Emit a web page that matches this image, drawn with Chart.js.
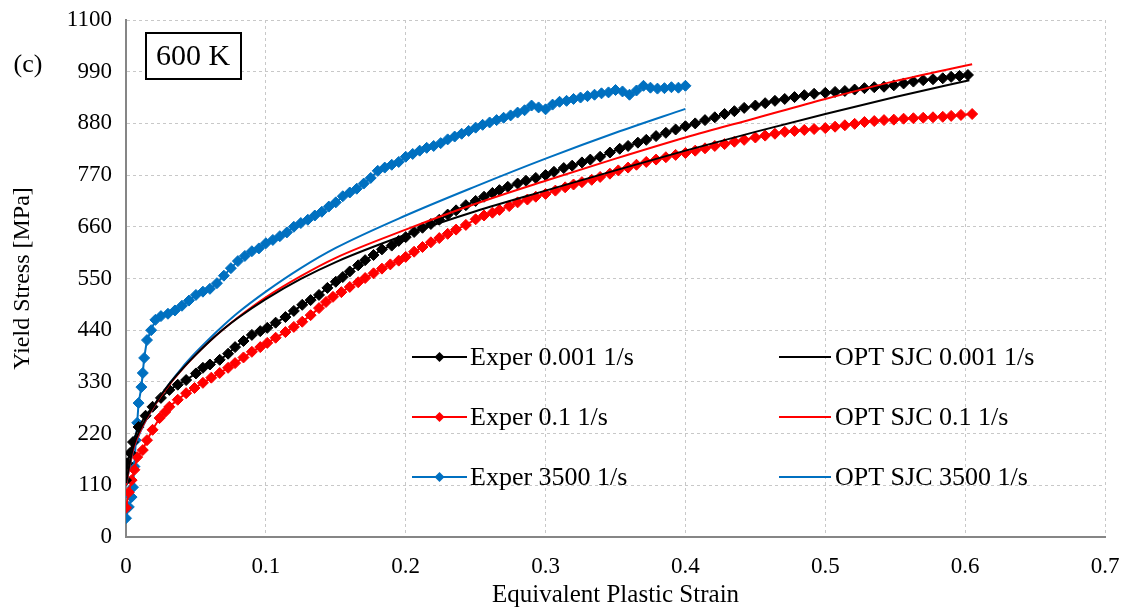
<!DOCTYPE html>
<html>
<head>
<meta charset="utf-8">
<script src="https://cdn.jsdelivr.net/npm/chart.js@4.4.1/dist/chart.umd.min.js"></script>
<style>
  html, body { margin: 0; padding: 0; background: #fff; }
  #wrap { width: 1130px; height: 613px; }
</style>
</head>
<body>
<div id="wrap"><canvas id="myChart" width="1130" height="613"></canvas></div>
<script>
var expStrain001 = [0, 0.001, 0.003, 0.005, 0.009, 0.014, 0.019, 0.025, 0.031, 0.037, 0.043, 0.05, 0.055, 0.06, 0.067, 0.073, 0.078, 0.084, 0.09, 0.096, 0.101, 0.107, 0.114, 0.12, 0.126, 0.132, 0.138, 0.144, 0.15, 0.155, 0.16, 0.166, 0.171, 0.177, 0.183, 0.19, 0.195, 0.2, 0.206, 0.212, 0.218, 0.224, 0.23, 0.236, 0.243, 0.25, 0.256, 0.262, 0.267, 0.273, 0.28, 0.286, 0.293, 0.3, 0.306, 0.313, 0.319, 0.326, 0.332, 0.339, 0.346, 0.353, 0.359, 0.366, 0.372, 0.379, 0.386, 0.393, 0.4, 0.407, 0.414, 0.421, 0.428, 0.435, 0.442, 0.45, 0.457, 0.464, 0.471, 0.478, 0.485, 0.492, 0.5, 0.507, 0.514, 0.521, 0.528, 0.535, 0.542, 0.549, 0.556, 0.563, 0.57, 0.577, 0.584, 0.59, 0.596, 0.602];
var expStress001 = [121, 157, 179, 202, 234, 258, 277, 296, 313, 324, 334, 348, 360, 367, 377, 390, 404, 417, 430, 438, 445, 456, 468, 481, 494, 504, 515, 530, 543, 553, 565, 578, 589, 600, 612, 620, 630, 638, 649, 658, 666, 675, 686, 695, 706, 715, 724, 732, 738, 745, 752, 758, 764, 770, 777, 785, 790, 797, 803, 809, 818, 826, 832, 839, 845, 853, 860, 867, 874, 880, 887, 893, 900, 906, 913, 918, 923, 928, 932, 936, 940, 943, 945, 947, 949, 952, 955, 957, 958, 961, 965, 969, 972, 974, 976, 979, 981, 983];

var expStrain01 = [0, 0.002, 0.004, 0.006, 0.008, 0.012, 0.015, 0.019, 0.024, 0.028, 0.031, 0.037, 0.043, 0.049, 0.055, 0.061, 0.067, 0.073, 0.078, 0.084, 0.09, 0.096, 0.101, 0.107, 0.114, 0.12, 0.126, 0.132, 0.138, 0.143, 0.148, 0.154, 0.16, 0.166, 0.171, 0.177, 0.183, 0.189, 0.195, 0.2, 0.206, 0.212, 0.218, 0.224, 0.23, 0.236, 0.243, 0.25, 0.256, 0.262, 0.267, 0.274, 0.28, 0.287, 0.293, 0.3, 0.307, 0.314, 0.32, 0.326, 0.333, 0.339, 0.346, 0.352, 0.359, 0.365, 0.372, 0.379, 0.386, 0.393, 0.4, 0.407, 0.414, 0.421, 0.428, 0.435, 0.442, 0.45, 0.457, 0.464, 0.471, 0.478, 0.485, 0.492, 0.5, 0.507, 0.514, 0.521, 0.528, 0.535, 0.542, 0.549, 0.556, 0.563, 0.57, 0.577, 0.584, 0.59, 0.597, 0.605];
var expStress01 = [62, 95, 121, 143, 170, 185, 206, 228, 253, 266, 277, 292, 306, 317, 328, 339, 349, 360, 370, 382, 394, 404, 413, 424, 436, 447, 458, 472, 487, 500, 511, 521, 532, 542, 551, 561, 571, 580, 588, 596, 607, 617, 627, 636, 645, 654, 664, 676, 684, 690, 696, 704, 712, 718, 724, 730, 737, 744, 750, 755, 760, 766, 773, 780, 786, 792, 798, 803, 808, 813, 817, 822, 827, 832, 836, 841, 845, 850, 854, 858, 862, 864, 866, 868, 870, 873, 876, 879, 883, 885, 887, 888, 890, 891, 892, 893, 894, 896, 898, 900];

var expStrain3500 = [0, 0.002, 0.004, 0.005, 0.006, 0.007, 0.008, 0.009, 0.011, 0.012, 0.013, 0.015, 0.018, 0.021, 0.025, 0.03, 0.035, 0.04, 0.045, 0.05, 0.055, 0.06, 0.065, 0.07, 0.075, 0.08, 0.085, 0.09, 0.095, 0.1, 0.105, 0.11, 0.115, 0.12, 0.125, 0.13, 0.135, 0.14, 0.145, 0.15, 0.155, 0.16, 0.165, 0.17, 0.175, 0.18, 0.185, 0.19, 0.195, 0.2, 0.205, 0.21, 0.215, 0.22, 0.225, 0.23, 0.235, 0.24, 0.245, 0.25, 0.255, 0.26, 0.265, 0.27, 0.275, 0.28, 0.285, 0.29, 0.295, 0.3, 0.305, 0.31, 0.315, 0.32, 0.325, 0.33, 0.335, 0.34, 0.345, 0.35, 0.355, 0.36, 0.365, 0.37, 0.375, 0.38, 0.385, 0.39, 0.395, 0.4];
var expStress3500 = [40, 64, 85, 106, 150, 206, 243, 285, 319, 349, 381, 419, 440, 462, 470, 475, 482, 492, 503, 515, 522, 528, 540, 556, 572, 587, 598, 608, 614, 625, 632, 640, 648, 660, 668, 675, 684, 692, 703, 712, 725, 733, 741, 752, 764, 779, 786, 792, 798, 809, 815, 822, 828, 832, 838, 846, 852, 858, 864, 871, 877, 882, 887, 892, 897, 903, 908, 918, 914, 910, 920, 926, 928, 932, 935, 938, 941, 944, 946, 951, 948, 941, 950, 960, 956, 954, 955, 957, 956, 960];

// Optimised SJC model curves
var fitStrain001 = [0, 0.005, 0.01, 0.02, 0.03, 0.04, 0.05, 0.06, 0.07, 0.08, 0.1, 0.125, 0.15, 0.2, 0.25, 0.3, 0.35, 0.4, 0.45, 0.5, 0.55, 0.603];
var fitStress001 = [115, 190, 228, 280, 322, 357, 388, 417, 443, 466, 506, 549, 585, 643, 693, 737, 780, 822, 862, 900, 936, 972];

var fitStrain01 = [0, 0.005, 0.01, 0.02, 0.03, 0.04, 0.05, 0.06, 0.07, 0.08, 0.1, 0.125, 0.15, 0.2, 0.25, 0.3, 0.35, 0.4, 0.45, 0.5, 0.55, 0.605];
var fitStress01 = [110, 185, 224, 278, 320, 356, 388, 417, 443, 467, 510, 555, 594, 654, 709, 758, 805, 850, 891, 932, 970, 1006];

var fitStrain3500 = [0, 0.005, 0.01, 0.02, 0.03, 0.04, 0.05, 0.06, 0.07, 0.08, 0.1, 0.125, 0.15, 0.2, 0.25, 0.3, 0.35, 0.4];
var fitStress3500 = [110, 182, 222, 278, 322, 360, 393, 423, 451, 477, 522, 572, 615, 684, 746, 805, 860, 911];

var labels = ['Exper 0.001 1/s', 'Exper 0.1 1/s', 'Exper 3500 1/s', 'OPT SJC 0.001 1/s', 'OPT SJC 0.1 1/s', 'OPT SJC 3500 1/s'];
var colors = ['#000000', '#ff0000', '#0070c0'];

var xTicks = [0, 0.1, 0.2, 0.3, 0.4, 0.5, 0.6, 0.7];
var yTicks = [0, 110, 220, 330, 440, 550, 660, 770, 880, 990, 1100];

const serif = "'Liberation Serif', 'Times New Roman', serif";

function toPoints(xs, ys) {
    return xs.map((x, i) => ({ x: x, y: ys[i] }));
}

function experSet(label, xs, ys, color) {
    return {
        label: label,
        data: toPoints(xs, ys),
        showLine: true,
        borderColor: color,
        backgroundColor: color,
        borderWidth: 2,
        pointStyle: 'rectRot',
        pointRadius: 5.5,
        pointBorderWidth: 1,
        order: 1
    };
}

function fitSet(label, xs, ys, color) {
    return {
        label: label,
        data: toPoints(xs, ys),
        showLine: true,
        borderColor: color,
        backgroundColor: color,
        borderWidth: 2,
        pointRadius: 0,
        cubicInterpolationMode: 'monotone',
        order: 0
    };
}

// Legend inside the plot plus the "(c)" and "600 K" labels
const annotations = {
    id: 'annotations',
    afterDraw(chart) {
        const ctx = chart.ctx;
        ctx.save();

        // legend: two columns, three rows
        const rows = [357, 417, 477];
        const cols = [{ x1: 412, x2: 467, tx: 470 }, { x1: 779, x2: 831, tx: 835 }];
        ctx.font = '26px ' + serif;
        ctx.textBaseline = 'middle';
        ctx.fillStyle = '#000';
        for (let c = 0; c < 2; c++) {
            for (let r = 0; r < 3; r++) {
                const col = cols[c];
                const y = rows[r];
                ctx.strokeStyle = colors[r];
                ctx.lineWidth = 2;
                ctx.beginPath();
                ctx.moveTo(col.x1, y);
                ctx.lineTo(col.x2, y);
                ctx.stroke();
                if (c === 0) {
                    const mx = (col.x1 + col.x2) / 2;
                    ctx.fillStyle = colors[r];
                    ctx.beginPath();
                    ctx.moveTo(mx, y - 5);
                    ctx.lineTo(mx + 5, y);
                    ctx.lineTo(mx, y + 5);
                    ctx.lineTo(mx - 5, y);
                    ctx.closePath();
                    ctx.fill();
                }
                ctx.fillStyle = '#000';
                ctx.textAlign = 'left';
                ctx.fillText(labels[c * 3 + r], col.tx, y + 1);
            }
        }

        // "(c)" panel label
        ctx.font = '26px ' + serif;
        ctx.textAlign = 'center';
        ctx.fillText('(c)', 28, 65);

        // "600 K" box
        ctx.fillStyle = '#fff';
        ctx.fillRect(146, 33, 95, 46);
        ctx.strokeStyle = '#000';
        ctx.lineWidth = 2;
        ctx.strokeRect(146, 33, 95, 46);
        ctx.fillStyle = '#000';
        ctx.font = '30px ' + serif;
        ctx.fillText('600 K', 193, 57);

        ctx.restore();
    }
};

let ctx = document.getElementById('myChart').getContext('2d');
let myChart = new Chart(ctx, {
    type: 'scatter',
    data: {
        datasets: [
            experSet(labels[0], expStrain001, expStress001, colors[0]),
            experSet(labels[1], expStrain01, expStress01, colors[1]),
            experSet(labels[2], expStrain3500, expStress3500, colors[2]),
            fitSet(labels[3], fitStrain001, fitStress001, colors[0]),
            fitSet(labels[4], fitStrain01, fitStress01, colors[1]),
            fitSet(labels[5], fitStrain3500, fitStress3500, colors[2])
        ]
    },
    options: {
        responsive: false,
        animation: false,
        layout: {
            padding: { top: 20, right: 25, left: 0, bottom: 0 }
        },
        plugins: {
            legend: { display: false },
            tooltip: { enabled: false }
        },
        scales: {
            x: {
                type: 'linear',
                min: 0,
                max: 0.7,
                afterBuildTicks: function(scale) {
                    scale.ticks = xTicks.map(v => ({ value: v }));
                },
                afterFit: function(scale) {
                    scale.height = 76;
                    scale.paddingLeft = 0;
                    scale.paddingRight = 0;
                },
                ticks: {
                    color: '#000',
                    padding: 16,
                    font: { family: serif, size: 23 },
                    callback: function(value) {
                        return value === 0 ? '0' : value.toFixed(1);
                    }
                },
                title: {
                    display: true,
                    text: 'Equivalent Plastic Strain',
                    color: '#000',
                    font: { family: serif, size: 25 },
                    padding: { top: 0, bottom: 3 }
                },
                grid: {
                    color: '#c8c8c8',
                    lineWidth: 1,
                    drawTicks: false
                },
                border: {
                    color: '#868686',
                    width: 2,
                    dash: [3, 3]
                }
            },
            y: {
                min: 0,
                max: 1100,
                afterBuildTicks: function(scale) {
                    scale.ticks = yTicks.map(v => ({ value: v }));
                },
                afterFit: function(scale) {
                    scale.width = 126;
                    scale.paddingTop = 0;
                    scale.paddingBottom = 0;
                },
                ticks: {
                    color: '#000',
                    padding: 14,
                    font: { family: serif, size: 23 },
                    callback: function(value) {
                        return String(value);
                    }
                },
                title: {
                    display: true,
                    text: 'Yield Stress [MPa]',
                    color: '#000',
                    font: { family: serif, size: 24 },
                    padding: { top: 8, bottom: 0 }
                },
                grid: {
                    color: '#c8c8c8',
                    lineWidth: 1,
                    drawTicks: false
                },
                border: {
                    color: '#868686',
                    width: 2,
                    dash: [3, 3]
                }
            }
        }
    },
    plugins: [annotations]
});
</script>
</body>
</html>
